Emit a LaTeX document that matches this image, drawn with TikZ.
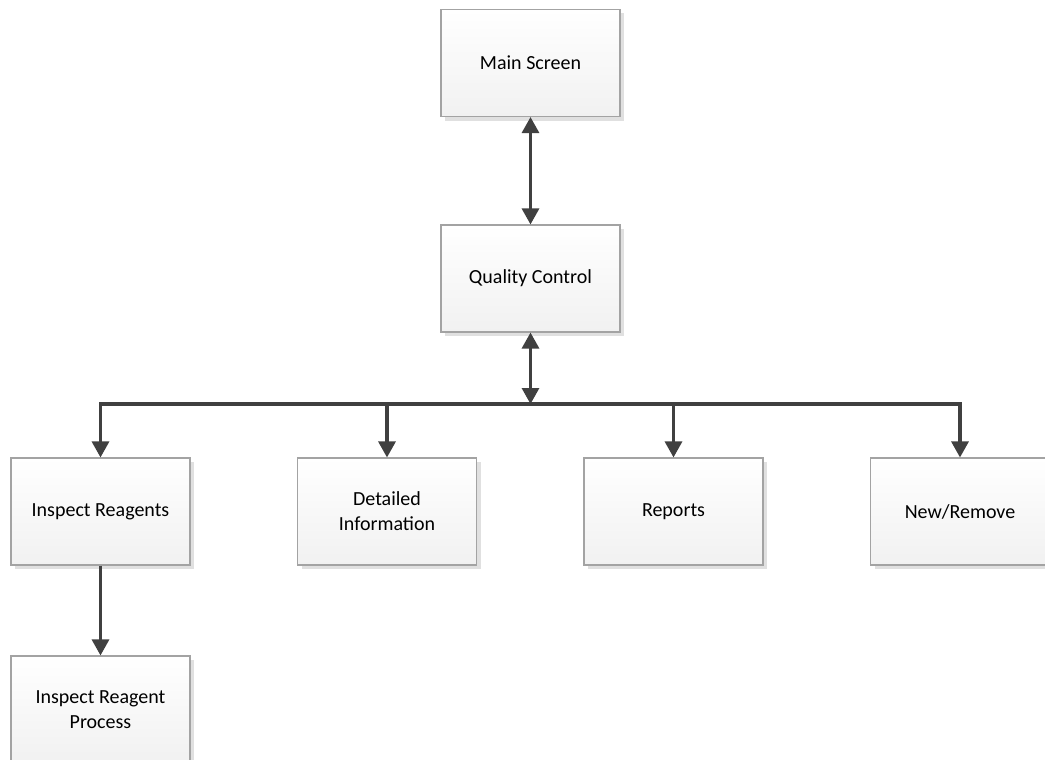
\documentclass[tikz,border=0pt]{standalone}
\usepackage{fontspec}
\setmainfont{Carlito}
\usetikzlibrary{arrows.meta,shadows}
\definecolor{linec}{HTML}{404040}
\definecolor{boxborder}{HTML}{A3A3A3}
\definecolor{boxbottom}{HTML}{F1F1F1}
\definecolor{shadowc}{HTML}{E0E0E0}
\tikzset{
  box/.style={rectangle, draw=boxborder, line width=1.1pt, top color=white, bottom color=boxbottom,
    minimum width=179pt, minimum height=107pt, align=center, font=\fontsize{20}{25}\selectfont,
    drop shadow={shadow xshift=4pt, shadow yshift=-4pt, fill=shadowc, opacity=1}},
  conn/.style={draw=linec, line width=3.1pt, -{Triangle[width=17pt,length=16pt]}},
  dconn/.style={draw=linec, line width=3.1pt, {Triangle[width=17pt,length=16pt]}-{Triangle[width=17pt,length=16pt]}}
}
\begin{document}
\begin{tikzpicture}[x=1pt,y=-1pt]
\useasboundingbox (0,0) rectangle (1045,760);
\clip (0,0) rectangle (1045,760);
\node[box] (main) at (530.5,63) {Main Screen};
\node[box] (qc) at (530.5,278.5) {Quality Control};
\node[box] (ir) at (100.5,511.5) {Inspect Reagents};
\node[box] (di) at (387,511.5) {Detailed\\Information};
\node[box] (rep) at (673.5,511.5) {Reports};
\node[box] (nr) at (960,511.5) {New/Remove};
\node[box] (irp) at (100.5,709.5) {Inspect Reagent\\Process};
\coordinate (bus) at (530.5,404);
\draw[dconn] (main.south) -- (qc.north);
\draw[dconn] (qc.south) -- (bus);
\draw[conn] (bus) -| (ir.north);
\draw[conn] (bus) -| (di.north);
\draw[conn] (bus) -| (rep.north);
\draw[conn] (bus) -| (nr.north);
\draw[conn] (ir.south) -- (irp.north);
\end{tikzpicture}
\end{document}
